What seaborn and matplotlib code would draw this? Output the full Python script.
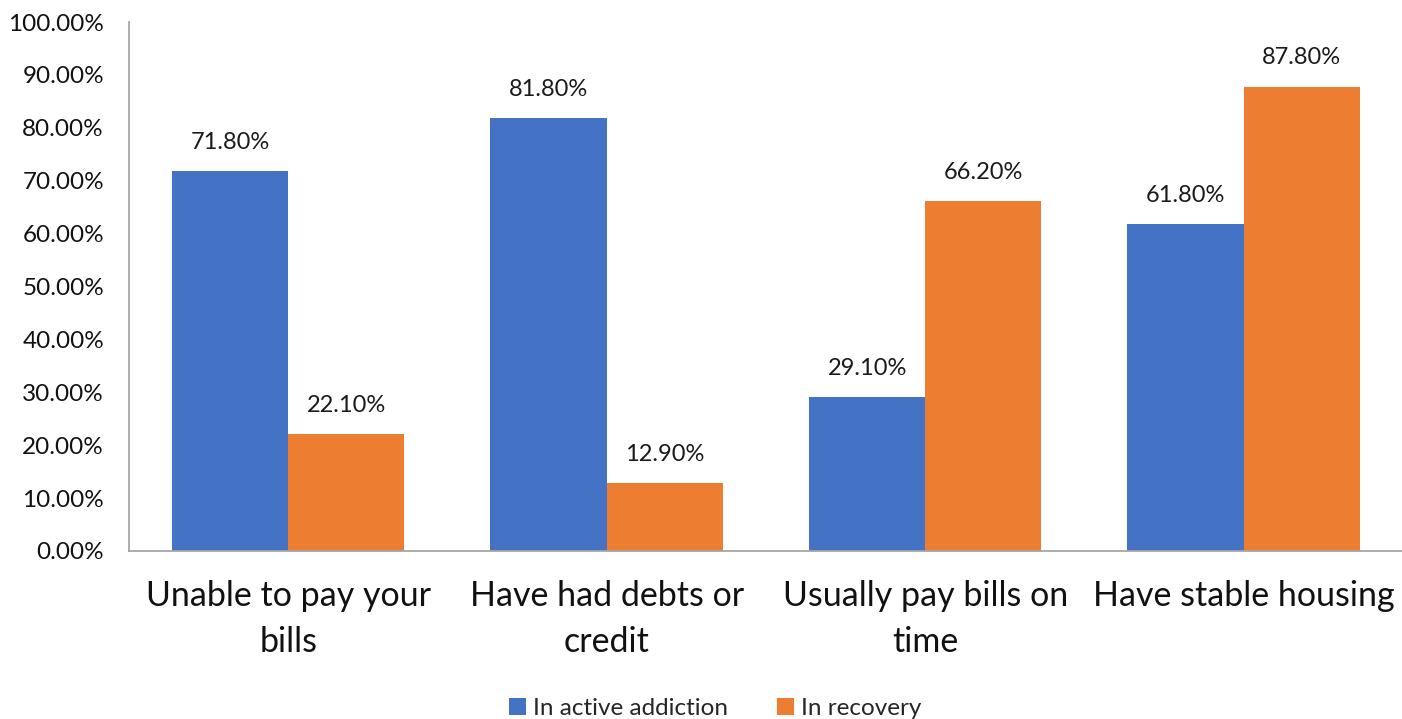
import matplotlib
matplotlib.use("Agg")
import matplotlib.pyplot as plt
import seaborn as sns
import pandas as pd
from matplotlib.ticker import FuncFormatter

categories = [
    "Unable to pay your\nbills",
    "Have had debts or\ncredit",
    "Usually pay bills on\ntime",
    "Have stable housing",
]
groups = ["In active addiction", "In recovery"]
active = [0.718, 0.818, 0.291, 0.618]
recovery = [0.221, 0.129, 0.662, 0.878]
colors = ["#4472C4", "#ED7D31"]

df = pd.DataFrame({
    "category": categories * 2,
    "group": [groups[0]] * len(categories) + [groups[1]] * len(categories),
    "value": active + recovery,
})

sns.set_theme(style="white")
plt.rcParams["font.family"] = ["Lato", "DejaVu Sans"]

fig = plt.figure(figsize=(14.02, 7.19), dpi=100)
ax = fig.add_axes([0.092, 0.2337, 0.9087, 0.7357])

sns.barplot(data=df, x="category", y="value", hue="group", palette=colors,
            width=0.73, saturation=1, ax=ax, legend=True, errorbar=None,
            linewidth=0, edgecolor="none")

for container in ax.containers:
    ax.bar_label(container, labels=[f"{v * 100:.2f}%" for v in container.datavalues],
                 padding=13, fontsize=17, color="#1a1a1a")

ax.set_ylim(0, 1.0)
ax.set_yticks([i / 10 for i in range(11)])
ax.yaxis.set_major_formatter(FuncFormatter(lambda v, _: f"{v * 100:.2f}%"))
ax.set_xlim(-0.5, len(categories) - 0.5)
ax.set_xlabel("")
ax.set_ylabel("")
ax.tick_params(axis="y", length=0, pad=18, labelsize=17.5, labelcolor="#111111")
ax.tick_params(axis="x", length=0, pad=21, labelsize=24.5, labelcolor="#111111")
for lab in ax.get_xticklabels():
    lab.set_linespacing(1.55)

for side in ["top", "right"]:
    ax.spines[side].set_visible(False)
for side in ["left", "bottom"]:
    ax.spines[side].set_color("#A6A6A6")
    ax.spines[side].set_linewidth(1.3)

handles, labels = ax.get_legend_handles_labels()
ax.get_legend().remove()
fig.legend(handles, labels, loc="lower center", bbox_to_anchor=(0.51, -0.031),
           ncol=2, frameon=False, fontsize=17.5, handlelength=0.7, handleheight=0.7,
           handletextpad=0.3, columnspacing=2.0)

fig.savefig("out.png", dpi=100, facecolor="white")
